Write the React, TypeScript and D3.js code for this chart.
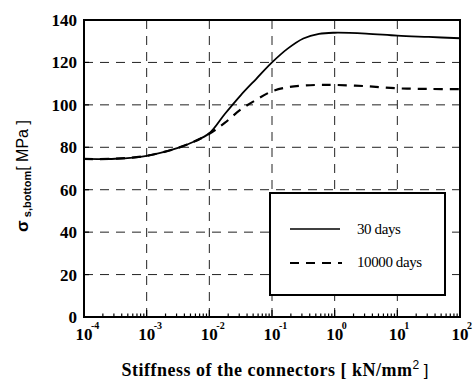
import React from "react";
import * as d3 from "d3";

// Stiffness of the connectors as log10 of kN/mm², and bottom steel stress [MPa]
const logStiffness = [-4, -3.5, -3, -2.5, -2.25, -2, -1.75, -1.5, -1.25, -1, -0.75, -0.5, -0.25, 0, 0.5, 1, 1.5, 2];
const stress30 = [74.5, 74.6, 76, 79.7, 82.6, 86.6, 95.8, 104.5, 112.3, 120, 126.5, 131.3, 133.5, 134, 133.6, 132.6, 132, 131.4];
const stress10000 = [74.5, 74.6, 76, 79.7, 82.6, 86.4, 91.6, 97.8, 102.4, 106.4, 108.3, 109.1, 109.4, 109.4, 108.8, 107.8, 107.5, 107.4];

const xTickExponents = ["-4", "-3", "-2", "-1", "0", "1", "2"];
const yTicks = [0, 20, 40, 60, 80, 100, 120, 140];
const legendLabels = ["30 days", "10000 days"];

const W = 474;
const H = 381;
const m = { left: 84, right: 460, top: 20, bottom: 317 };

export default function App() {
  const x = d3.scaleLog().domain([1e-4, 100]).range([m.left, m.right]);
  const y = d3.scaleLinear().domain([0, 140]).range([m.bottom, m.top]);

  const line = d3
    .line<number>()
    .x((_, i) => x(Math.pow(10, logStiffness[i])))
    .y((d) => y(d))
    .curve(d3.curveCatmullRom.alpha(0.5));

  const decades = xTickExponents.map((e) => Math.pow(10, +e));
  const minor: number[] = [];
  for (let i = 0; i < decades.length - 1; i++) {
    for (let k = 2; k <= 9; k++) minor.push(decades[i] * k);
  }

  const serif = "'Liberation Serif', 'Times New Roman', serif";
  const sans = "'Liberation Sans', Arial, sans-serif";

  const legend = { x: 270, y: 193, w: 175, h: 102 };

  return (
    <svg
      width={W}
      height={H}
      viewBox={`0 0 ${W} ${H}`}
      style={{ position: "absolute", left: 0, top: 0, background: "#fff" }}
    >
      {/* grid */}
      <g stroke="#222" strokeWidth={1} strokeDasharray="9,7" fill="none">
        {decades.slice(1, -1).map((d) => (
          <line key={"gx" + d} x1={x(d)} x2={x(d)} y1={m.top} y2={m.bottom} />
        ))}
        {yTicks.slice(1, -1).map((v) => (
          <line key={"gy" + v} x1={m.left} x2={m.right} y1={y(v)} y2={y(v)} />
        ))}
      </g>

      {/* ticks */}
      <g stroke="#000" strokeWidth={1.2}>
        {decades.map((d) => (
          <line key={"mt" + d} x1={x(d)} x2={x(d)} y1={m.bottom} y2={m.bottom - 7} />
        ))}
        {minor.map((d, i) => (
          <line key={"mn" + i} x1={x(d)} x2={x(d)} y1={m.bottom} y2={m.bottom - 3.5} />
        ))}
        {yTicks.map((v) => (
          <line key={"yt" + v} x1={m.left} x2={m.left + 5} y1={y(v)} y2={y(v)} />
        ))}
      </g>

      {/* series */}
      <path d={line(stress30) || ""} fill="none" stroke="#000" strokeWidth={1.8} />
      <path
        d={line(stress10000) || ""}
        fill="none"
        stroke="#000"
        strokeWidth={2.2}
        strokeDasharray="9,7"
      />

      {/* frame */}
      <rect
        x={m.left}
        y={m.top}
        width={m.right - m.left}
        height={m.bottom - m.top}
        fill="none"
        stroke="#000"
        strokeWidth={2}
      />

      {/* legend */}
      <rect x={legend.x} y={legend.y} width={legend.w} height={legend.h} fill="#fff" stroke="#000" strokeWidth={2} />
      <line x1={290} x2={340} y1={229} y2={229} stroke="#000" strokeWidth={1.5} />
      <line x1={290} x2={342} y1={263} y2={263} stroke="#000" strokeWidth={2} strokeDasharray="9,7" />
      <text x={357} y={234} fontFamily={serif} fontSize={15} letterSpacing={-0.4}>
        {legendLabels[0]}
      </text>
      <text x={357} y={267} fontFamily={serif} fontSize={15} letterSpacing={-0.4}>
        {legendLabels[1]}
      </text>

      {/* y tick labels */}
      {yTicks.map((v) => (
        <text
          key={"yl" + v}
          x={77}
          y={y(v) + 6}
          textAnchor="end"
          fontFamily={serif}
          fontSize={17}
          fontWeight="bold"
        >
          {v}
        </text>
      ))}

      {/* x tick labels */}
      {xTickExponents.map((e, i) => (
        <g key={"xl" + e} transform={`translate(${x(decades[i])},340)`}>
          <text x={0} y={0} textAnchor="middle" fontFamily={serif} fontSize={17} fontWeight="bold">
            10
          </text>
          <text x={7} y={-11} fontFamily={serif} fontSize={10} fontWeight="bold">
            {e}
          </text>
        </g>
      ))}

      {/* axis titles */}
      <text
        x={275}
        y={376}
        textAnchor="middle"
        fontFamily={serif}
        fontSize={18}
        fontWeight="bold"
        letterSpacing={0.5}
      >
        Stiffness of the connectors [ kN/mm
        <tspan fontFamily={sans} fontWeight="normal" fontSize={17} letterSpacing={0}>
          <tspan fontSize={12} dy={-7}>2</tspan>
          <tspan dy={7}> ]</tspan>
        </tspan>
      </text>
      <g transform="translate(28,176) rotate(-90)">
        <text x={0} y={0} textAnchor="middle" fontFamily={sans} fontWeight="bold" fontSize={17}>
          σ
          <tspan fontSize={11} dy={3}> s,bottom</tspan>
          <tspan fontSize={16} fontWeight="normal" dy={-3}>[ MPa ]</tspan>
        </text>
      </g>
    </svg>
  );
}
